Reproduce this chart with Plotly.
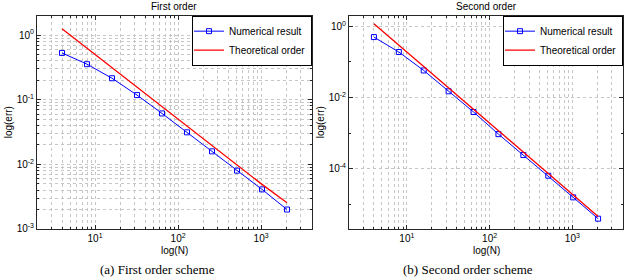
import plotly.graph_objects as go

N = [4, 8, 16, 32, 64, 128, 256, 512, 1024, 2048]
err_first = [0.53, 0.355, 0.215, 0.118, 0.0614, 0.0313, 0.0159, 0.0080, 0.0041, 0.0020]
theory_first = [1.25, 0.625, 0.3125, 0.156, 0.078, 0.039, 0.0195, 0.0098, 0.0049, 0.00255]
err_second = [0.50, 0.19, 0.0575, 0.0149, 0.0039, 0.00093, 0.00024, 6.3e-5, 1.55e-5, 3.9e-6]
theory_second = [1.19, 0.30, 0.074, 0.0186, 0.00465, 0.00116, 2.9e-4, 7.3e-5, 1.8e-5, 4.5e-6]

titles = ["First order", "Second order"]
captions = ["(a) First order scheme", "(b) Second order scheme"]
x_label = "log(N)"
y_label = "log(err)"
legend_names = ["Numerical result", "Theoretical order"]

x_major = [10, 100, 1000]
x_major_text = ["10<sup>1</sup>", "10<sup>2</sup>", "10<sup>3</sup>"]
y1_major = [1e-3, 1e-2, 1e-1, 1]
y1_major_text = ["10<sup>-3</sup>", "10<sup>-2</sup>", "10<sup>-1</sup>", "10<sup>0</sup>"]
y2_major = [1e-4, 1e-2, 1]
y2_major_text = ["10<sup>-4</sup>", "10<sup>-2</sup>", "10<sup>0</sup>"]

def minor_vals(lo, hi):
    vals = []
    for e in range(lo, hi + 1):
        for m in range(2, 10):
            vals.append(m * 10 ** e)
    return vals

FONT = "Liberation Sans"
BLUE = "rgb(0,0,255)"
RED = "rgb(255,0,0)"
GRID = "#c6c6c6"
AX = "#262626"

fig = go.Figure()

fig.add_trace(go.Scatter(x=N, y=err_first, mode="lines+markers", name=legend_names[0],
                         line=dict(color=BLUE, width=1),
                         marker=dict(symbol="square-open", size=5, color=BLUE, line=dict(width=1)),
                         xaxis="x", yaxis="y", legend="legend"))
fig.add_trace(go.Scatter(x=N, y=theory_first, mode="lines", name=legend_names[1],
                         line=dict(color=RED, width=1.3), xaxis="x", yaxis="y", legend="legend"))
fig.add_trace(go.Scatter(x=N, y=err_second, mode="lines+markers", name=legend_names[0],
                         line=dict(color=BLUE, width=1),
                         marker=dict(symbol="square-open", size=5, color=BLUE, line=dict(width=1)),
                         xaxis="x2", yaxis="y2", legend="legend2"))
fig.add_trace(go.Scatter(x=N, y=theory_second, mode="lines", name=legend_names[1],
                         line=dict(color=RED, width=1.3), xaxis="x2", yaxis="y2", legend="legend2"))

W, H = 627, 280
def px(x):
    return x / W
def py(y):
    return 1 - y / H

top, bottom = 16, 234
dom1 = [px(37), px(312)]
dom2 = [px(349), px(623)]
ydom = [py(bottom), py(top)]

def xaxis(domain, anchor):
    return dict(type="log", domain=domain, anchor=anchor, range=[0.30103, 3.61236],
                tickmode="array", tickvals=x_major, ticktext=x_major_text,
                ticks="inside", ticklen=4, tickcolor=AX, mirror="allticks",
                showline=True, linecolor=AX, linewidth=1,
                showgrid=True, gridcolor=GRID, griddash="dot", gridwidth=1,
                minor=dict(tickmode="array", tickvals=minor_vals(0, 3), ticks="inside",
                           ticklen=2, tickcolor=AX, showgrid=True, gridcolor=GRID,
                           griddash="dot", gridwidth=1),
                tickfont=dict(family=FONT, size=10, color="black"), zeroline=False)

def yaxis(domain, anchor, rng, vals, text, minor):
    return dict(type="log", domain=domain, anchor=anchor, range=rng,
                tickmode="array", tickvals=vals, ticktext=text,
                ticks="inside", ticklen=4, tickcolor=AX, mirror="allticks",
                showline=True, linecolor=AX, linewidth=1,
                showgrid=True, gridcolor=GRID, griddash="dot", gridwidth=1,
                minor=minor,
                tickfont=dict(family=FONT, size=10, color="black"), zeroline=False)

minor_y1 = dict(tickmode="array", tickvals=minor_vals(-3, 0), ticks="inside", ticklen=2,
                tickcolor=AX, showgrid=True, gridcolor=GRID, griddash="dot", gridwidth=1)
minor_y2 = dict(tickmode="array", tickvals=[1e-5, 1e-3, 1e-1], ticks="inside", ticklen=2,
                tickcolor=AX, showgrid=False)

legend_common = dict(bgcolor="white", bordercolor="black", borderwidth=1,
                     font=dict(family=FONT, size=10, color="black"),
                     yanchor="top", xanchor="right", y=py(top),
                     tracegroupgap=0, itemwidth=30, indentation=-4)

annotations = []
for i, (dom, t, cap, ylx) in enumerate([(dom1, titles[0], captions[0], 8),
                                        (dom2, titles[1], captions[1], 320)]):
    cx = (dom[0] + dom[1]) / 2
    annotations.append(dict(text=t, x=cx, y=py(7), xref="paper", yref="paper",
                            showarrow=False, font=dict(family=FONT, size=10, color="black"),
                            xanchor="center", yanchor="middle"))
    annotations.append(dict(text=x_label, x=cx, y=py(256), xref="paper", yref="paper",
                            showarrow=False, font=dict(family=FONT, size=10, color="black"),
                            xanchor="center", yanchor="middle"))
    annotations.append(dict(text=y_label, x=px(ylx), y=py(125), xref="paper", yref="paper",
                            showarrow=False, textangle=-90,
                            font=dict(family=FONT, size=10, color="black"),
                            xanchor="center", yanchor="middle"))
    capx = px(157) if i == 0 else px(468)
    annotations.append(dict(text=cap, x=capx, y=py(275), xref="paper", yref="paper",
                            showarrow=False, font=dict(family="Liberation Serif", size=13, color="black"),
                            xanchor="center", yanchor="middle"))

fig.update_layout(
    width=W, height=H, autosize=False,
    margin=dict(l=0, r=0, t=0, b=0),
    paper_bgcolor="white", plot_bgcolor="white",
    xaxis=xaxis(dom1, "y"),
    yaxis=yaxis(ydom, "x", [-3, 0.30103], y1_major, y1_major_text, minor_y1),
    xaxis2=xaxis(dom2, "y2"),
    yaxis2=yaxis(ydom, "x2", [-5.69897, 0.30103], y2_major, y2_major_text, minor_y2),
    legend=dict(x=dom1[1], **legend_common),
    legend2=dict(x=dom2[1], **legend_common),
    annotations=annotations,
    showlegend=True,
)

fig.write_html("out.html")
